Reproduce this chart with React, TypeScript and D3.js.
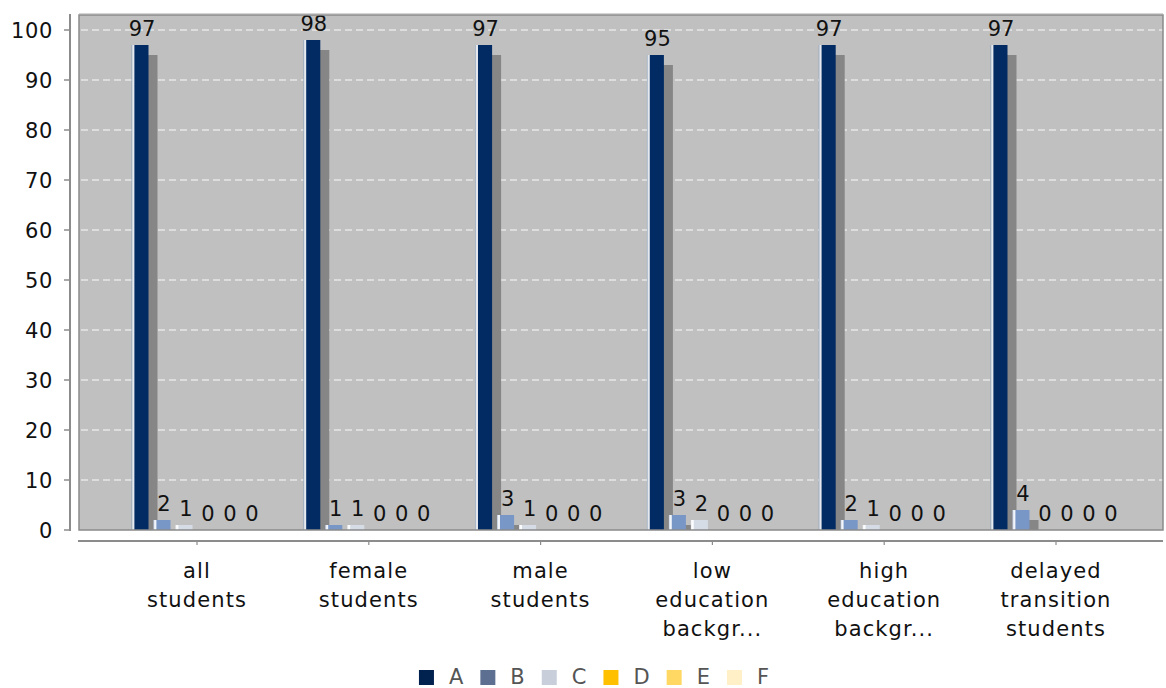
import React from "react";
import * as d3 from "d3";

const categories = [
  "all students",
  "female students",
  "male students",
  "low education backgr...",
  "high education backgr...",
  "delayed transition students",
];
const categoryLines = [
  ["all", "students"],
  ["female", "students"],
  ["male", "students"],
  ["low", "education", "backgr..."],
  ["high", "education", "backgr..."],
  ["delayed", "transition", "students"],
];
const seriesNames = ["A", "B", "C", "D", "E", "F"];
const valuesA = [97, 98, 97, 95, 97, 97];
const valuesB = [2, 1, 3, 3, 2, 4];
const valuesC = [1, 1, 1, 2, 1, 0];
const valuesD = [0, 0, 0, 0, 0, 0];
const valuesE = [0, 0, 0, 0, 0, 0];
const valuesF = [0, 0, 0, 0, 0, 0];
const yTicks = [0, 10, 20, 30, 40, 50, 60, 70, 80, 90, 100];

const legendColors = ["#01214f", "#5e7091", "#c8cfdb", "#ffc000", "#ffd864", "#fff0c8"];
const barColors = ["#022b63", "#7896c6", "#d6dce6", "#ffc000", "#ffd864", "#fff0c8"];

const allValues = [valuesA, valuesB, valuesC, valuesD, valuesE, valuesF];

const FONT = "DejaVu Sans";

export default function App() {
  const W = 1166, H = 688;
  const plotL = 79, plotR = 1163, plotT = 15, plotB = 530;
  const y = d3.scaleLinear().domain([0, 103]).range([plotB, plotT]);
  const x0 = d3.scaleBand<string>().domain(categories).range([111.1, 1141.9]).padding(0);
  const barW = 17, step = 22;
  const inner = d3
    .scaleBand<string>()
    .domain(seriesNames)
    .range([0, step * seriesNames.length - (step - barW)])
    .paddingInner((step - barW) / step)
    .paddingOuter(0);
  const groupW = step * seriesNames.length - (step - barW);
  const shadowDx = 9, shadowDy = 10;
  const fs = 21;

  const legendTextW = [14.4, 14.4, 14.7, 16.2, 13.3, 12.1];
  const sq = 15, sqGap = 15, itemGap = 17;
  const itemWidths = legendTextW.map((t) => sq + sqGap + t);
  const legendTotal = d3.sum(itemWidths) + itemGap * (seriesNames.length - 1);
  let lx = 594 - legendTotal / 2;
  const legendX = itemWidths.map((w) => {
    const v = lx;
    lx += w + itemGap;
    return v;
  });

  return (
    <svg
      width={W}
      height={H}
      style={{ position: "absolute", left: 0, top: 0, background: "#fff" }}
      fontFamily={FONT}
    >
      <defs>
        {barColors.map((c, i) => {
          const light = d3.interpolateRgb(c, "#ffffff")(0.55);
          const white = d3.interpolateRgb(c, "#ffffff")(0.9);
          return (
            <linearGradient key={i} id={`g${i}`} x1="0" x2="1" y1="0" y2="0">
              <stop offset="0%" stopColor={light} />
              <stop offset="8%" stopColor={white} />
              <stop offset="14%" stopColor={white} />
              <stop offset="20%" stopColor={c} />
              <stop offset="100%" stopColor={c} />
            </linearGradient>
          );
        })}
        <clipPath id="plotClip">
          <rect x={plotL} y={plotT} width={plotR - plotL} height={plotB - plotT} />
        </clipPath>
      </defs>

      {/* plot background */}
      <rect x={plotL} y={plotT} width={plotR - plotL} height={plotB - plotT} fill="#c0c0c0" />

      {/* gridlines */}
      {yTicks.filter((t) => t > 0).map((t) => (
        <line
          key={t}
          x1={plotL + 2}
          x2={plotR}
          y1={y(t)}
          y2={y(t)}
          stroke="#e6e6e6"
          strokeWidth={1.3}
          strokeDasharray="7,4"
        />
      ))}

      {/* bars */}
      <g clipPath="url(#plotClip)">
        {categories.map((cat, ci) => {
          const gx = (x0(cat) as number) + x0.bandwidth() / 2 - 2 - groupW / 2;
          return (
            <g key={cat}>
              {seriesNames.map((s, si) => {
                const v = allValues[si][ci];
                if (v <= 0) return null;
                const bx = gx + (inner(s) as number);
                const by = y(v);
                return (
                  <g key={s}>
                    <rect
                      x={bx + shadowDx}
                      y={by + shadowDy}
                      width={inner.bandwidth()}
                      height={Math.max(0, plotB - by - shadowDy)}
                      fill="#868686"
                    />
                    <rect
                      x={bx}
                      y={by}
                      width={inner.bandwidth()}
                      height={plotB - by}
                      fill={`url(#g${si})`}
                    />
                  </g>
                );
              })}
            </g>
          );
        })}
      </g>

      {/* value labels */}
      {categories.map((cat, ci) => {
        const gx = (x0(cat) as number) + x0.bandwidth() / 2 - 2 - groupW / 2;
        return seriesNames.map((s, si) => {
          const v = allValues[si][ci];
          const cx = gx + (inner(s) as number) + inner.bandwidth() / 2 + 2;
          return (
            <text
              key={cat + s}
              x={cx}
              y={y(v) - 9.5}
              textAnchor="middle"
              fontSize={fs}
              fill="#111"
            >
              {v}
            </text>
          );
        });
      })}

      {/* plot border */}
      <rect
        x={plotL}
        y={plotT}
        width={plotR - plotL}
        height={plotB - plotT}
        fill="none"
        stroke="#8a8a8a"
        strokeWidth={1.5}
      />
      <line x1={plotL} x2={plotR} y1={plotT - 1} y2={plotT - 1} stroke="#a8a8a8" strokeWidth={1} />

      {/* y axis */}
      <line x1={70} x2={70} y1={plotT - 1} y2={plotB + 1} stroke="#8c8c8c" strokeWidth={2} />
      {yTicks.map((t) => (
        <g key={t}>
          <line x1={64} x2={70} y1={y(t)} y2={y(t)} stroke="#8c8c8c" strokeWidth={1.5} />
          <text x={53} y={y(t) + 7.5} textAnchor="end" fontSize={fs} fill="#111" letterSpacing={0.6}>
            {t}
          </text>
        </g>
      ))}

      {/* category axis */}
      <line x1={plotL - 1} x2={plotR} y1={541} y2={541} stroke="#8c8c8c" strokeWidth={2} />
      {categories.map((cat, ci) => {
        const cx = (x0(cat) as number) + x0.bandwidth() / 2;
        return (
          <g key={cat}>
            <line x1={cx} x2={cx} y1={541} y2={545} stroke="#8c8c8c" strokeWidth={1.2} />
            <text textAnchor="middle" fontSize={fs} fill="#111" letterSpacing={1.1}>
              {categoryLines[ci].map((ln, li) => (
                <tspan key={li} x={cx} y={578 + li * 29}>
                  {ln}
                </tspan>
              ))}
            </text>
          </g>
        );
      })}

      {/* legend */}
      {seriesNames.map((s, i) => (
        <g key={s}>
          <rect x={legendX[i]} y={670} width={sq} height={sq} fill={legendColors[i]} />
          <text x={legendX[i] + sq + sqGap} y={684} fontSize={fs} fill="#555">
            {s}
          </text>
        </g>
      ))}
    </svg>
  );
}
